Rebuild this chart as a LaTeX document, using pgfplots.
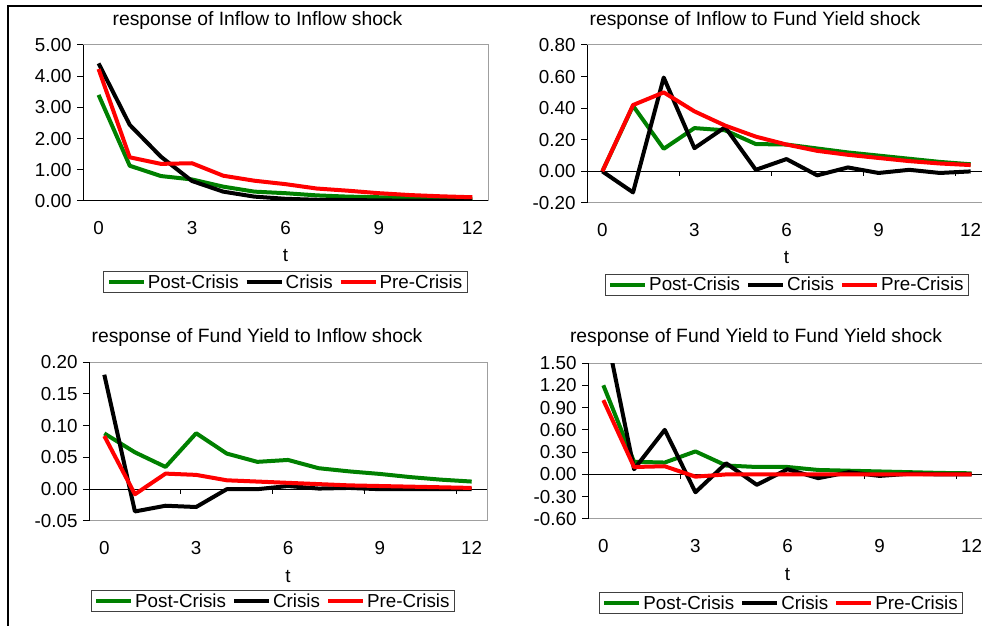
\documentclass[border=0pt]{standalone}
\usepackage{fontspec}
\setmainfont{Liberation Sans}
\usepackage{pgfplots}
\pgfplotsset{compat=1.18}
\definecolor{xgreen}{RGB}{0,128,0}
\definecolor{xred}{RGB}{255,0,0}
\pgfplotsset{
  irf/.style={
    scale only axis,
    xmin=-0.5, xmax=12.5,
    axis line style={draw=gray!75, line width=1pt},
    xtick={0,3,6,9,12}, xticklabels={0,3,6,9,12},
    xtick style={draw=none},
    xticklabel style={anchor=center, yshift=-21pt},
    ytick pos=left,
    ytick style={black, line width=1pt},
    tick align=outside, major tick length=6pt,
    yticklabel style={anchor=east, xshift=-2pt},
    xlabel={t}, xlabel style={at={(axis description cs:0.5,0)}, anchor=center, yshift=-55pt},
    legend columns=3,
    legend style={draw=black!75, line width=0.8pt, fill=white, inner xsep=3pt, inner ysep=1pt,
      font=\fontsize{18.8}{22}\selectfont,
      nodes={inner xsep=2pt},
      /tikz/every even column/.append style={column sep=4pt}},
    legend image code/.code={\draw[#1, line width=4pt] (0pt,0pt) -- (35pt,0pt);},
    every axis plot/.append style={line width=4pt, line join=round},
    tick label style={font=\fontsize{18.8}{22}\selectfont},
    label style={font=\fontsize{18.8}{22}\selectfont},
  },
}
\newcommand{\zeroaxis}{%
  \draw[black, line width=1pt] (axis cs:-0.5,0) -- (axis cs:12.5,0);
  \draw[black, line width=1pt] (axis cs:2.5,0) -- ++(0pt,-5pt);
  \draw[black, line width=1pt] (axis cs:5.5,0) -- ++(0pt,-5pt);
  \draw[black, line width=1pt] (axis cs:8.5,0) -- ++(0pt,-5pt);
  \draw[black, line width=1pt] (axis cs:11.5,0) -- ++(0pt,-5pt);
}
\newcommand{\leftspine}{\draw[black, line width=1pt] (rel axis cs:0,0) -- (rel axis cs:0,1);}
\begin{document}
\begin{tikzpicture}[x=1pt,y=1pt]
\path[use as bounding box] (0,0) rectangle (982,626);
\clip (0,0) rectangle (982,626);
\draw[line width=2pt] (8,0) -- (8,620) -- (982,620);
\tikzset{ttl/.style={font=\fontsize{19.3}{22}\selectfont, anchor=center}}
\node[ttl] at (257.5,605) {response of Inflow to Inflow shock};
\node[ttl] at (755,605) {response of Inflow to Fund Yield shock};
\node[ttl] at (257,288) {response of Fund Yield to Inflow shock};
\node[ttl] at (756,288) {response of Fund Yield to Fund Yield shock};

% Panel 1
\begin{axis}[irf, at={(83pt,425pt)}, anchor=south west, width=405pt, height=156pt,
  ymin=0, ymax=5, ytick={0,1,2,3,4,5}, yticklabels={0.00,1.00,2.00,3.00,4.00,5.00},
  legend style={at={(0.5,-0.449)}, anchor=north}]
\zeroaxis
\addplot[xgreen] coordinates {(0,3.40) (1,1.13) (2,0.80) (3,0.69) (4,0.46) (5,0.30) (6,0.25) (7,0.18) (8,0.14) (9,0.12) (10,0.10) (11,0.08) (12,0.07)};
\addplot[black] coordinates {(0,4.41) (1,2.44) (2,1.42) (3,0.64) (4,0.30) (5,0.14) (6,0.07) (7,0.04) (8,0.03) (9,0.02) (10,0.01) (11,0.01) (12,0.01)};
\addplot[xred] coordinates {(0,4.23) (1,1.40) (2,1.19) (3,1.21) (4,0.81) (5,0.65) (6,0.54) (7,0.40) (8,0.33) (9,0.25) (10,0.19) (11,0.15) (12,0.12)};
\leftspine
\legend{Post-Crisis,Crisis,Pre-Crisis}
\end{axis}

% Panel 2
\begin{axis}[irf, at={(587pt,423pt)}, anchor=south west, width=399pt, height=158pt,
  ymin=-0.2, ymax=0.8, ytick={-0.2,0,0.2,0.4,0.6,0.8}, yticklabels={-0.20,0.00,0.20,0.40,0.60,0.80},
  legend style={at={(0.501,-0.449)}, anchor=north}]
\zeroaxis
\addplot[xgreen] coordinates {(0,0) (1,0.415) (2,0.143) (3,0.274) (4,0.26) (5,0.173) (6,0.17) (7,0.145) (8,0.12) (9,0.10) (10,0.08) (11,0.06) (12,0.045)};
\addplot[black] coordinates {(0,0) (1,-0.133) (2,0.594) (3,0.147) (4,0.28) (5,0.01) (6,0.078) (7,-0.025) (8,0.025) (9,-0.01) (10,0.01) (11,-0.01) (12,0.0)};
\addplot[xred] coordinates {(0,0) (1,0.42) (2,0.50) (3,0.38) (4,0.29) (5,0.22) (6,0.17) (7,0.13) (8,0.105) (9,0.085) (10,0.065) (11,0.05) (12,0.04)};
\leftspine
\legend{Post-Crisis,Crisis,Pre-Crisis}
\end{axis}

% Panel 3
\begin{axis}[irf, at={(89pt,105pt)}, anchor=south west, width=398pt, height=159pt,
  ymin=-0.05, ymax=0.2, ytick={-0.05,0,0.05,0.1,0.15,0.2}, yticklabels={-0.05,0.00,0.05,0.10,0.15,0.20},
  legend style={at={(0.462,-0.434)}, anchor=north}]
\zeroaxis
\addplot[xgreen] coordinates {(0,0.0877) (1,0.058) (2,0.035) (3,0.088) (4,0.056) (5,0.043) (6,0.046) (7,0.033) (8,0.028) (9,0.024) (10,0.019) (11,0.015) (12,0.012)};
\addplot[black] coordinates {(0,0.180) (1,-0.035) (2,-0.026) (3,-0.028) (4,0.0) (5,0.0) (6,0.005) (7,0.001) (8,0.002) (9,0.0) (10,0.0) (11,0.0) (12,0.0)};
\addplot[xred] coordinates {(0,0.0836) (1,-0.008) (2,0.0245) (3,0.0225) (4,0.014) (5,0.012) (6,0.010) (7,0.008) (8,0.006) (9,0.005) (10,0.004) (11,0.003) (12,0.002)};
\leftspine
\legend{Post-Crisis,Crisis,Pre-Crisis}
\end{axis}

% Panel 4
\begin{axis}[irf, at={(588pt,107pt)}, anchor=south west, width=399pt, height=156pt,
  ymin=-0.6, ymax=1.5, ytick={-0.6,-0.3,0,0.3,0.6,0.9,1.2,1.5}, yticklabels={-0.60,-0.30,0.00,0.30,0.60,0.90,1.20,1.50},
  legend style={at={(0.484,-0.468)}, anchor=north}]
\zeroaxis
\addplot[xgreen] coordinates {(0,1.20) (1,0.17) (2,0.16) (3,0.31) (4,0.12) (5,0.10) (6,0.10) (7,0.06) (8,0.05) (9,0.04) (10,0.03) (11,0.02) (12,0.015)};
\addplot[black] coordinates {(0,2.10) (1,0.07) (2,0.60) (3,-0.24) (4,0.15) (5,-0.14) (6,0.07) (7,-0.05) (8,0.03) (9,-0.02) (10,0.01) (11,0.0) (12,0.0)};
\addplot[xred] coordinates {(0,1.00) (1,0.10) (2,0.11) (3,-0.03) (4,0.0) (5,0.0) (6,0.0) (7,0.0) (8,0.0) (9,0.0) (10,0.0) (11,0.0) (12,0.0)};
\leftspine
\legend{Post-Crisis,Crisis,Pre-Crisis}
\end{axis}
\end{tikzpicture}
\end{document}
